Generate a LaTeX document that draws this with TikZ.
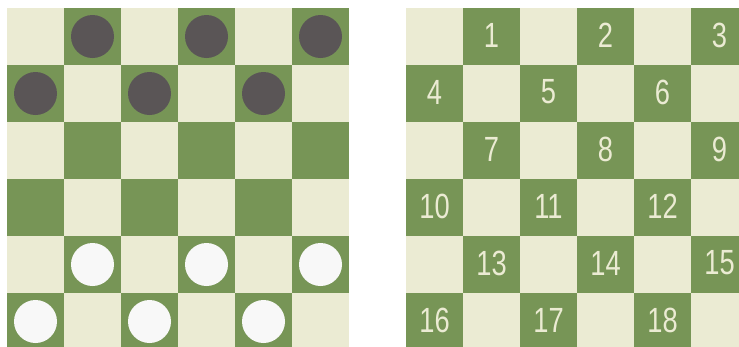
\documentclass[tikz,border=0pt]{standalone}
\usepackage{fontspec}
\setmainfont{Liberation Sans}
\newfontfamily\numfont[FakeStretch=0.78]{Liberation Sans}
\usetikzlibrary{positioning}
\definecolor{boardlight}{HTML}{EBEBD3}
\definecolor{boarddark}{HTML}{779556}
\definecolor{blackman}{HTML}{5A5556}
\definecolor{whiteman}{HTML}{F8F8F8}
\tikzstyle{lightsq} = [fill=boardlight]
\tikzstyle{darksq} = [fill=boarddark]
\tikzstyle{blackpiece} = [circle, minimum size=43pt, inner sep=0pt, fill=blackman]
\tikzstyle{whitepiece} = [circle, minimum size=43pt, inner sep=0pt, fill=whiteman]
\tikzstyle{sqnum} = [inner sep=0pt, text=boardlight, font=\numfont\fontsize{35}{35}\selectfont]

\begin{document}
\begin{tikzpicture}[x=1pt,y=-1pt]
\useasboundingbox (0,0) rectangle (739,346);
\clip (0,0) rectangle (739,346);
% left board with the men
\fill[lightsq] (7,8) rectangle ++(342,342);
\foreach \r in {0,...,5}
  \foreach \k in {0,1,2} {
    \pgfmathtruncatemacro{\c}{2*\k+1-mod(\r,2)}
    \fill[darksq] (7+57*\c,8+57*\r) rectangle ++(57,57);
  }
\foreach \r in {0,1}
  \foreach \k in {0,1,2} {
    \pgfmathtruncatemacro{\c}{2*\k+1-mod(\r,2)}
    \node (b\r\c) [blackpiece] at (35.5+57*\c,36.5+57*\r) {};
  }
\foreach \r in {4,5}
  \foreach \k in {0,1,2} {
    \pgfmathtruncatemacro{\c}{2*\k+1-mod(\r,2)}
    \node (w\r\c) [whitepiece] at (35.5+57*\c,36.5+57*\r) {};
  }
% right board with the numbering
\fill[lightsq] (406,8) rectangle ++(342,342);
\foreach \r in {0,...,5}
  \foreach \k in {0,1,2} {
    \pgfmathtruncatemacro{\c}{2*\k+1-mod(\r,2)}
    \pgfmathtruncatemacro{\n}{3*\r+\k+1}
    \fill[darksq] (406+57*\c,8+57*\r) rectangle ++(57,57);
    \node (n\n) [sqnum] at (434.5+57*\c,35+57*\r) {\n};
  }
\end{tikzpicture}
\end{document}
